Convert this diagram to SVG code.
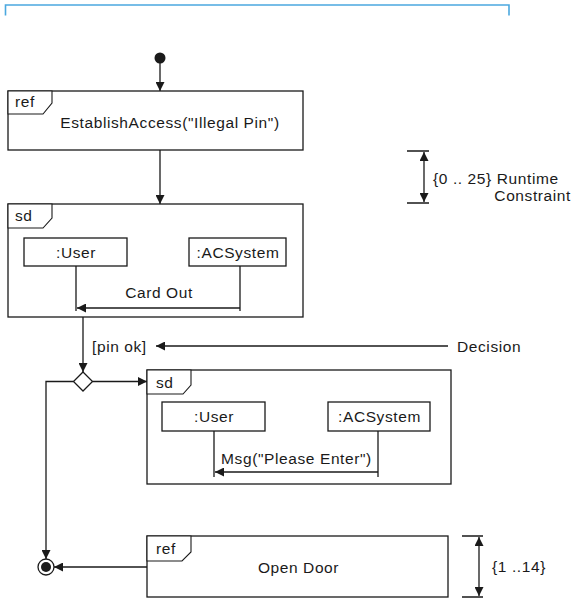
<svg xmlns="http://www.w3.org/2000/svg" width="572" height="600" viewBox="0 0 572 600">
<style>
text{font-family:"Liberation Sans",Arial,sans-serif;font-size:15.5px;letter-spacing:0.6px;fill:#1a1a1a}
.c{text-anchor:middle}
.e{text-anchor:end}
.b{fill:#fff;stroke:#1a1a1a;stroke-width:1.3}
.t{fill:#fff;stroke:#1a1a1a;stroke-width:1.1}
.l{fill:none;stroke:#1a1a1a;stroke-width:1.3}
</style>
<defs>
<marker id="a" viewBox="0 0 10 10" refX="10" refY="5" markerWidth="9" markerHeight="9" markerUnits="userSpaceOnUse" orient="auto"><path d="M0,0L10,5L0,10z" fill="#1a1a1a"/></marker>
<marker id="s" viewBox="0 0 10 10" refX="10" refY="5" markerWidth="9" markerHeight="9" markerUnits="userSpaceOnUse" orient="auto-start-reverse"><path d="M0,0L10,5L0,10z" fill="#1a1a1a"/></marker>
</defs>
<path d="M5.5,15.5V5H509V15.5" fill="none" stroke="#4ba8df" stroke-width="1.6"/>
<g id="start"><circle cx="160" cy="58" r="5.5" fill="#1a1a1a"/></g>
<g id="ref1">
<rect class="b" x="8" y="91" width="295" height="59"/>
<path class="t" d="M8,91H52V103L43,114H8z"/>
<text x="15" y="107">ref</text>
<text class="c" x="170" y="128">EstablishAccess("Illegal Pin")</text>
</g>
<g id="constraint1">
<path class="l" d="M407,151H429M407,203H429"/>
<line class="l" x1="424" y1="152" x2="424" y2="202" marker-start="url(#s)" marker-end="url(#s)"/>
<text x="433" y="184">{0 .. 25} Runtime</text>
<text class="e" x="571" y="201">Constraint</text>
</g>
<g id="sd1">
<rect class="b" x="8" y="204" width="295" height="113"/>
<path class="t" d="M8,204H52V218L43,228H8z"/>
<text x="15" y="221">sd</text>
<rect class="b" x="24" y="238" width="103" height="28"/>
<text class="c" x="76" y="258">:User</text>
<rect class="b" x="189" y="238" width="97" height="28"/>
<text class="c" x="238" y="258">:ACSystem</text>
<line class="l" x1="76" y1="266" x2="76" y2="311"/>
<line class="l" x1="240" y1="266" x2="240" y2="311"/>
<line class="l" x1="240" y1="308" x2="77" y2="308" marker-end="url(#a)"/>
<text class="c" x="159" y="298">Card Out</text>
</g>
<g id="decision"><path class="b" d="M83,372L92.5,381.5L83,391L73.5,381.5z"/></g>
<g id="sd2">
<rect class="b" x="147" y="370" width="304" height="114"/>
<path class="t" d="M147,370H191V385L183,394H147z"/>
<text x="156" y="388">sd</text>
<rect class="b" x="162" y="402" width="103" height="29"/>
<text class="c" x="214" y="422">:User</text>
<rect class="b" x="328" y="402" width="102" height="29"/>
<text class="c" x="379.5" y="422">:ACSystem</text>
<line class="l" x1="214" y1="431" x2="214" y2="477"/>
<line class="l" x1="378" y1="431" x2="378" y2="477"/>
<line class="l" x1="378" y1="472" x2="215" y2="472" marker-end="url(#a)"/>
<text class="c" x="296.5" y="464">Msg("Please Enter")</text>
</g>
<g id="ref2">
<rect class="b" x="147" y="536" width="301" height="61"/>
<path class="t" d="M147,536H191V552L182,561H147z"/>
<text x="156" y="554">ref</text>
<text class="c" x="298.5" y="573">Open Door</text>
</g>
<g id="constraint2">
<path class="l" d="M462,536H483M462,597H483"/>
<line class="l" x1="479" y1="537" x2="479" y2="596" marker-start="url(#s)" marker-end="url(#s)"/>
<text x="492" y="572">{1 ..14}</text>
</g>
<g id="final">
<circle cx="46" cy="567" r="8" fill="#fff" stroke="#1a1a1a" stroke-width="1.3"/>
<circle cx="46" cy="567" r="5" fill="#1a1a1a"/>
</g>
<g id="connectors">
<line class="l" x1="160" y1="63" x2="160" y2="91" marker-end="url(#a)"/>
<line class="l" x1="160" y1="150" x2="160" y2="204" marker-end="url(#a)"/>
<line class="l" x1="83" y1="317" x2="83" y2="372" marker-end="url(#a)"/>
<text x="92" y="352">[pin ok]</text>
<line class="l" x1="448" y1="346" x2="156" y2="346" marker-end="url(#a)"/>
<text x="457" y="352">Decision</text>
<line class="l" x1="92.5" y1="381.5" x2="147" y2="381.5" marker-end="url(#a)"/>
<path class="l" d="M73.5,381.5H46V559" marker-end="url(#a)"/>
<line class="l" x1="147" y1="567" x2="54" y2="567" marker-end="url(#a)"/>
</g>
</svg>
